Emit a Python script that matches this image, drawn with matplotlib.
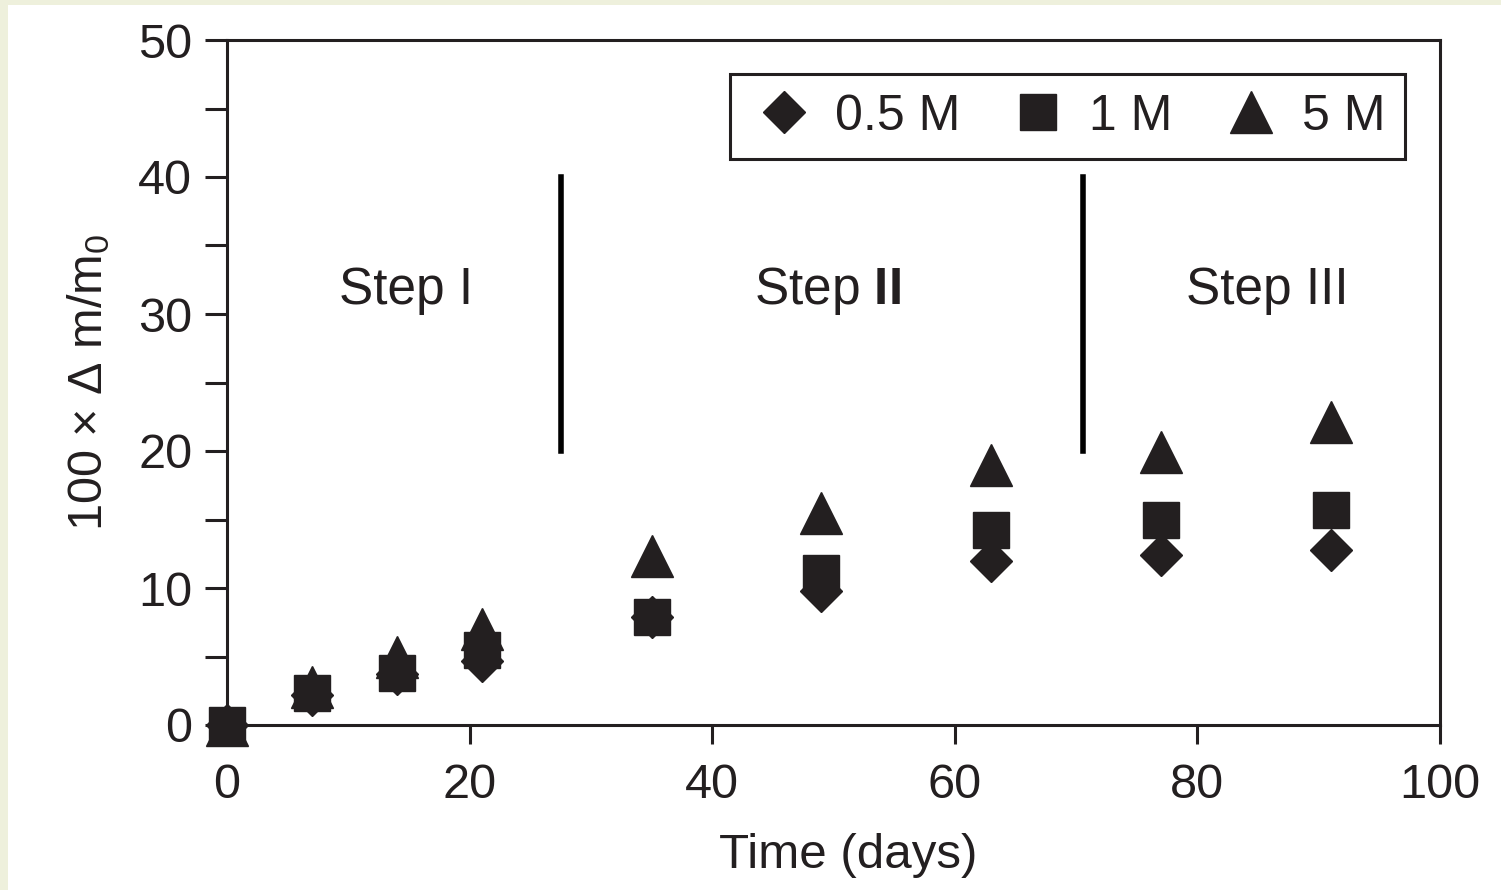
import numpy as np
import matplotlib.pyplot as plt
from matplotlib.patches import Rectangle

plt.rcParams['font.family'] = ['Liberation Sans', 'DejaVu Sans']
plt.rcParams['mathtext.fontset'] = 'custom'
plt.rcParams['mathtext.rm'] = 'Liberation Sans'
plt.rcParams['mathtext.it'] = 'Liberation Sans'
plt.rcParams['mathtext.bf'] = 'Liberation Sans:bold'

# donnees
days = [0, 7, 14, 21, 35, 49, 63, 77, 91]
m_05 = [0, 2.2, 3.7, 4.7, 7.9, 9.8, 12.0, 12.4, 12.8]
m_1 = [0, 2.3, 3.8, 5.5, 7.9, 11.1, 14.2, 15.0, 15.7]
m_5 = [0, 2.8, 5.0, 7.0, 12.3, 15.5, 19.0, 19.9, 22.1]
series_labels = ['0.5 M', '1 M', '5 M']
step_bounds = [27.5, 70.6]
step_names = ['Step I', r'Step $\mathbf{II}$', 'Step III']
step_x = [14.8, 49.5, 85.8]

col = '#231f20'

fig = plt.figure(figsize=(15.01, 8.9), dpi=100, facecolor='#eef0dc')
fig.patches.append(Rectangle((8/1501, 0), 1, 1-5/890, transform=fig.transFigure,
                             facecolor='white', edgecolor='none', zorder=-10))
ax = fig.add_axes([227/1501, 1-725/890, 1213/1501, 685/890])
ax.set_facecolor('white')

ax.plot(days, m_5, '^', color=col, ms=30, mec=col, clip_on=False, zorder=3, label=series_labels[2])
ax.plot(days, m_1, 's', color=col, ms=26, mec=col, clip_on=False, zorder=3, label=series_labels[1])
ax.plot(days, m_05, 'D', color=col, ms=21, mec=col, clip_on=False, zorder=3, label=series_labels[0])

for b in step_bounds:
    ax.plot([b, b], [20, 40], color='black', lw=4)
for xs, name in zip(step_x, step_names):
    ax.text(xs, 31.7, name, fontsize=37, color=col, ha='center', va='center')

ax.set_xlim(0, 100)
ax.set_ylim(0, 50)
ax.set_xticks(np.arange(0, 101, 20))
ax.set_yticks(np.arange(0, 51, 10))
ax.set_yticks(np.arange(5, 50, 10), minor=True)
ax.tick_params(axis='both', direction='out', width=2.2, color=col, labelsize=35, labelcolor=col)
ax.tick_params(axis='x', length=14, pad=13)
ax.tick_params(axis='y', which='both', length=16, width=2.2, color=col, pad=9)
for s in ax.spines.values():
    s.set_linewidth(2.2)
    s.set_color(col)

ax.set_xlabel('Time (days)', fontsize=35.5, color=col)
ax.xaxis.set_label_coords(0.512, -0.157)
ax.set_ylabel(r'100 × Δ m/m$_0$', fontsize=35, color=col)
ax.yaxis.set_label_coords(-0.095, 0.5)

h, l = ax.get_legend_handles_labels()
leg = ax.legend(h[::-1], l[::-1], loc='upper right', bbox_to_anchor=(0.971, 0.950),
                borderaxespad=0, ncol=3, fontsize=36, fancybox=False, frameon=True,
                framealpha=1, handlelength=1.38, handletextpad=0.33, columnspacing=0.87,
                borderpad=0.39, markerscale=1.0)
leg.get_frame().set_edgecolor(col)
leg.get_frame().set_linewidth(2.2)
for t in leg.get_texts():
    t.set_color(col)

fig.savefig('out.png', dpi=100, facecolor=fig.get_facecolor())
